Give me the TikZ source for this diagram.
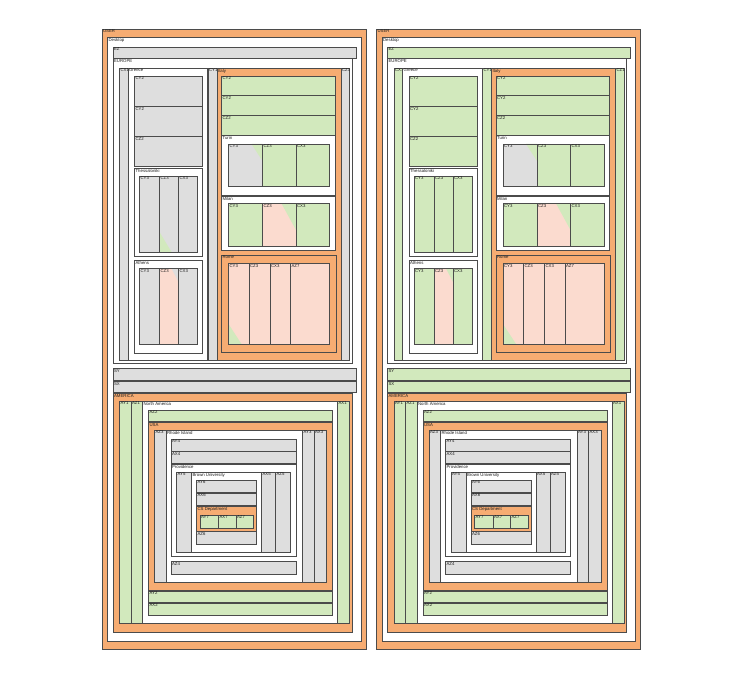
\documentclass[tikz,border=0pt]{standalone}
\usepackage{fontspec}
\setmainfont{Liberation Sans}
\definecolor{corange}{RGB}{246,172,114}
\definecolor{cgray}{RGB}{222,222,222}
\definecolor{cgreen}{RGB}{210,233,189}
\definecolor{cpink}{RGB}{251,219,207}
\definecolor{cline}{RGB}{75,75,75}
\definecolor{ctext}{RGB}{30,30,30}
\tikzset{
  boxline/.style={draw=cline,line width=0.7pt},
  lbl/.style={anchor=north west,inner sep=0pt,font=\fontsize{4.3}{4.6}\selectfont,text=ctext}
}
\newcommand\bx[7]{%
  \draw[boxline,fill=#6] (#2,#3) rectangle (#4,#5);
  \node[lbl] (#1) at ({#2+0.9},{#3+0.7}) {#7};}
\newcommand\tri[7]{%
  \fill[#7] (#1,#2) -- (#3,#4) -- (#5,#6) -- cycle;}
\newcommand\rb[4]{\draw[boxline] (#1,#2) rectangle (#3,#4);}
\newcommand\panel[3]{%
\begin{scope}[xshift=#2]
\bx{#1user}{102}{29}{366}{649}{corange}{USER}
\bx{#1desk}{107.5}{37}{361}{641}{white}{Desktop}
\bx{#1ez}{113}{47}{356}{58}{#3}{EZ}
\bx{#1eu}{113}{58.5}{352}{363.5}{white}{EUROPE}
\bx{#1cxa}{119.5}{68}{128}{360}{#3}{CX1}
\bx{#1gre}{128}{68}{207.5}{360}{white}{Greece}
\bx{#1grA}{134.5}{76}{202.5}{106.5}{#3}{CY2}
\bx{#1grB}{134.5}{106.5}{202.5}{136.5}{#3}{CY2}
\bx{#1grC}{134.5}{136.5}{202.5}{166.5}{#3}{CZ2}
\bx{#1the}{134.5}{168.5}{202.5}{256.5}{white}{Thessaloniki}
\bx{#1thA}{139.5}{176}{159.5}{252}{#3}{CY3}
\bx{#1thB}{159.5}{176}{178.5}{252}{#3}{CZ3}
\tri{159.5}{232}{159.5}{252}{171.5}{252}{cgreen}
\rb{159.5}{176}{178.5}{252}
\bx{#1thC}{178.5}{176}{197.5}{252}{#3}{CX3}
\bx{#1ath}{134.5}{260.5}{202.5}{353}{white}{Athens}
\bx{#1atA}{139.5}{268.5}{159.5}{344}{#3}{CY3}
\bx{#1atB}{159.5}{268.5}{178.5}{344}{cpink}{CZ3}
\tri{171.5}{268.5}{178.5}{268.5}{178.5}{282}{#3}
\rb{159.5}{268.5}{178.5}{344}
\bx{#1atC}{178.5}{268.5}{197.5}{344}{#3}{CX3}
\bx{#1cya}{208}{68}{217}{360}{#3}{CY1}
\bx{#1ita}{217}{68}{341}{360}{corange}{Italy}
\bx{#1itA}{221.5}{76}{335}{95.5}{cgreen}{CY2}
\bx{#1itB}{221.5}{95.5}{335}{115.5}{cgreen}{CY2}
\bx{#1itC}{221.5}{115.5}{335}{135.5}{cgreen}{CZ2}
\bx{#1tur}{221.5}{135.5}{335}{195}{white}{Turin}
\bx{#1tuA}{228.5}{144}{262.5}{186}{cgray}{CY3}
\tri{251.5}{144}{262.5}{144}{262.5}{161}{cgreen}
\rb{228.5}{144}{262.5}{186}
\bx{#1tuB}{262.5}{144}{296}{186}{cgreen}{CZ3}
\bx{#1tuC}{296}{144}{329.5}{186}{cgreen}{CX3}
\bx{#1mil}{221.5}{196}{335}{250}{white}{Milan}
\bx{#1miA}{228.5}{203.5}{262.5}{246}{cgreen}{CY3}
\bx{#1miB}{262.5}{203.5}{296}{246}{cpink}{CZ3}
\tri{281.5}{203.5}{296}{203.5}{296}{230}{cgreen}
\rb{262.5}{203.5}{296}{246}
\bx{#1miC}{296}{203.5}{329.5}{246}{cgreen}{CX3}
\bx{#1rom}{221.5}{255}{336}{352}{corange}{Rome}
\bx{#1roA}{228.5}{263.5}{249}{344}{cpink}{CY3}
\tri{228.5}{324}{228.5}{344}{241.5}{344}{cgreen}
\rb{228.5}{263.5}{249}{344}
\bx{#1roB}{249}{263.5}{270}{344}{cpink}{CZ3}
\bx{#1roC}{270}{263.5}{290.5}{344}{cpink}{CX3}
\bx{#1roD}{290.5}{263.5}{329.5}{344}{cpink}{AZ7}
\bx{#1cza}{341}{68}{349.5}{360}{#3}{CZ1}
\bx{#1sy}{113}{368.5}{356}{380}{#3}{SY}
\bx{#1sx}{113}{381.5}{356}{392.5}{#3}{SX}
\bx{#1ame}{113}{393.5}{352}{632}{corange}{AMERICA}
\bx{#1aya}{119.5}{401}{131}{623.5}{cgreen}{AY1}
\bx{#1aza}{131}{401}{142.5}{623.5}{cgreen}{AZ1}
\bx{#1nam}{142.5}{401}{337.5}{623.5}{white}{North America}
\bx{#1axa}{337.5}{401}{349.5}{623.5}{cgreen}{AX1}
\bx{#1azb}{148.5}{410}{332.5}{421.5}{cgreen}{AZ2}
\bx{#1usa}{148.5}{422.5}{332.5}{590}{corange}{USA}
\bx{#1azc}{154.5}{430}{166}{582.5}{cgray}{AZ3}
\bx{#1rhi}{166}{430}{302.5}{582.5}{white}{Rhode Island}
\bx{#1ayc}{302.5}{430}{314}{582.5}{cgray}{AY3}
\bx{#1axc}{314}{430}{326.5}{582.5}{cgray}{AX3}
\bx{#1ayd}{171}{439}{296}{451}{cgray}{AY4}
\bx{#1axd}{171}{451.5}{296}{463.5}{cgray}{AX4}
\bx{#1pro}{171}{464.5}{296}{556}{white}{Providence}
\bx{#1aye}{176.5}{472}{191.5}{552}{cgray}{AY5}
\bx{#1bro}{191.5}{472}{261.5}{552}{white}{Brown University}
\bx{#1axe}{261.5}{472}{275.5}{552}{cgray}{AX5}
\bx{#1aze}{275.5}{472}{290.5}{552}{cgray}{AZ5}
\bx{#1ayf}{196.5}{480}{256.5}{492.5}{cgray}{AY6}
\bx{#1axf}{196.5}{493}{256.5}{505}{cgray}{AX6}
\bx{#1csd}{196.5}{506.5}{256.5}{531}{corange}{CS Department}
\bx{#1ayg}{200}{515}{218.5}{528}{cgreen}{AY7}
\bx{#1axg}{218.5}{515}{236}{528}{cgreen}{AX7}
\bx{#1azg}{236}{515}{253.5}{528}{cgreen}{AZ7}
\bx{#1azf}{196.5}{531.5}{256.5}{544.5}{cgray}{AZ6}
\bx{#1azd}{171}{561.5}{296}{574}{cgray}{AZ4}
\bx{#1ayb}{148.5}{591}{332.5}{602.5}{cgreen}{AY2}
\bx{#1axb}{148.5}{603}{332.5}{615}{cgreen}{AX2}
\end{scope}}
\begin{document}
\begin{tikzpicture}[x=1pt,y=-1pt]
\useasboundingbox[fill=white] (0,0) rectangle (733,679);
\panel{L}{0pt}{cgray}
\panel{R}{274.5pt}{cgreen}
\end{tikzpicture}
\end{document}
